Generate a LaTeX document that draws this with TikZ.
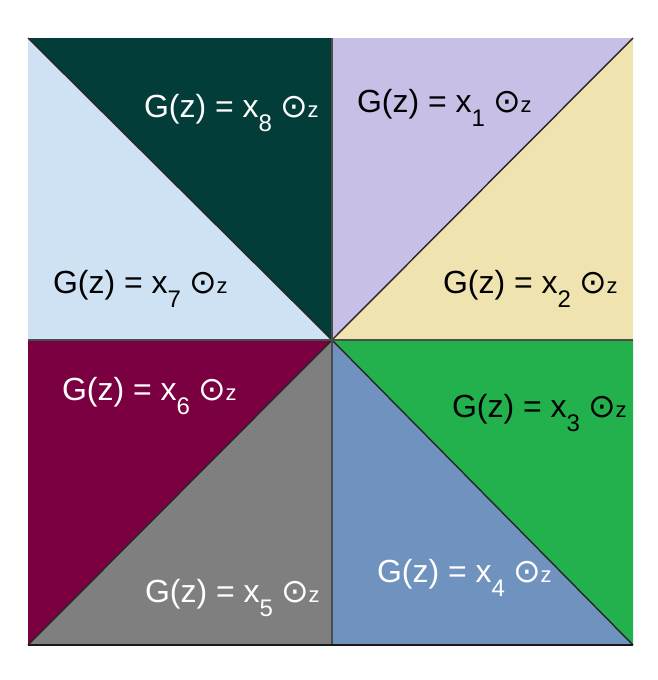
\documentclass[tikz,border=0pt]{standalone}
\usepackage{fontspec}
\setmainfont{Liberation Sans}
\newfontfamily\symf{DejaVu Sans}
\definecolor{cteal}{HTML}{033D3A}
\definecolor{clblue}{HTML}{CFE2F3}
\definecolor{clav}{HTML}{C7BFE6}
\definecolor{cbeige}{HTML}{EFE4B0}
\definecolor{cgreen}{HTML}{22B14C}
\definecolor{csteel}{HTML}{7092BE}
\definecolor{cgray}{HTML}{7F7F7F}
\definecolor{cmaroon}{HTML}{7B0041}
\newcommand{\glab}[1]{\fontsize{32}{32}\selectfont G(z) = x\raisebox{-14pt}{\fontsize{24}{24}\selectfont #1}\hspace{8pt}{\symf\fontsize{33}{33}\selectfont ⊙}{\fontsize{22}{22}\selectfont z}}
\tikzset{lab/.style={anchor=base west, inner sep=0pt, outer sep=0pt},
  divline/.style={draw=black!85, line width=1.4pt}}
\begin{document}
\begin{tikzpicture}[x=1pt,y=-1pt]
\useasboundingbox (0,0) rectangle (658,680);
\coordinate (tl) at (28,38);
\coordinate (tr) at (633,38);
\coordinate (bl) at (28,645);
\coordinate (br) at (633,645);
\coordinate (c) at (332,340);
\coordinate (tm) at (332,38);
\coordinate (bm) at (332,645);
\coordinate (lm) at (28,340);
\coordinate (rm) at (633,340);
% triangles
\fill[cteal] (tl) -- (tm) -- (c) -- cycle;
\fill[clblue] (tl) -- (c) -- (lm) -- cycle;
\fill[clav] (tm) -- (tr) -- (c) -- cycle;
\fill[cbeige] (tr) -- (rm) -- (c) -- cycle;
\fill[cgreen] (c) -- (rm) -- (br) -- cycle;
\fill[csteel] (c) -- (br) -- (bm) -- cycle;
\fill[cgray] (c) -- (bm) -- (bl) -- cycle;
\fill[cmaroon] (c) -- (bl) -- (lm) -- cycle;
% lines
\draw[divline] (tl) -- (c) -- (br);
\draw[divline] (tr) -- (c) -- (bl);
\draw[draw=black!70, line width=1.6pt] (tm) -- (bm);
\draw[draw=black!70, line width=1.6pt] (lm) -- (rm);
\draw[draw=black!90, line width=1.8pt] (bl) -- (br);
% labels
\node[lab, text=black] (l1) at (357,112) {\glab{1}};
\node[lab, text=black] (l2) at (443,293) {\glab{2}};
\node[lab, text=black] (l3) at (452,417) {\glab{3}};
\node[lab, text=white] (l4) at (377,582) {\glab{4}};
\node[lab, text=white] (l5) at (145,602) {\glab{5}};
\node[lab, text=white] (l6) at (62,400) {\glab{6}};
\node[lab, text=black] (l7) at (53,293) {\glab{7}};
\node[lab, text=white] (l8) at (144,117) {\glab{8}};
\end{tikzpicture}
\end{document}
